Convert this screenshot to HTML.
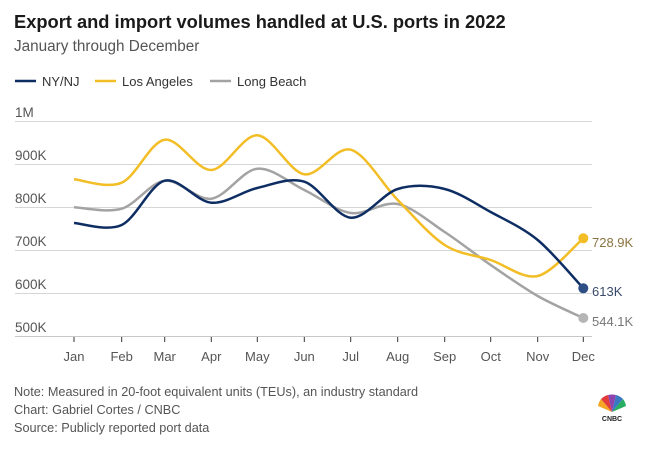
<!DOCTYPE html>
<html><head><meta charset="utf-8"><style>
body{margin:0;width:655px;height:449px;background:#fff;font-family:"Liberation Sans",sans-serif;overflow:hidden}
</style></head><body>
<svg width="655" height="449" xmlns="http://www.w3.org/2000/svg" style="position:absolute;left:0;top:0">
<text x="14" y="28" font-size="18.3" font-weight="bold" fill="#1a1a1a">Export and import volumes handled at U.S. ports in 2022</text>
<text x="14" y="51" font-size="15.3" fill="#555">January through December</text>
<g font-size="13" fill="#333">
<line x1="15" y1="81" x2="36" y2="81" stroke="#0e2e63" stroke-width="2.5"/><text x="42" y="86">NY/NJ</text>
<line x1="95" y1="81" x2="116" y2="81" stroke="#f2bd25" stroke-width="2.5"/><text x="122" y="86">Los Angeles</text>
<line x1="210" y1="81" x2="231" y2="81" stroke="#a3a3a3" stroke-width="2.5"/><text x="237" y="86">Long Beach</text>
</g>
<g stroke="#d6d6d6" stroke-width="1">
<line x1="15" y1="121.5" x2="592" y2="121.5"/><line x1="15" y1="164.5" x2="592" y2="164.5"/>
<line x1="15" y1="207.5" x2="592" y2="207.5"/><line x1="15" y1="250.5" x2="592" y2="250.5"/>
<line x1="15" y1="293.5" x2="592" y2="293.5"/><line x1="15" y1="336.5" x2="592" y2="336.5" stroke="#c8c8c8"/>
</g>
<g font-size="13.5" fill="#555">
<text x="15" y="117">1M</text><text x="15" y="160">900K</text><text x="15" y="203">800K</text>
<text x="15" y="246">700K</text><text x="15" y="289">600K</text><text x="15" y="332">500K</text>
</g>
<g id="ticks" stroke="#333" stroke-width="1"></g>
<g id="xl" font-size="13" fill="#555" text-anchor="middle"></g>
<path id="gy" fill="none" stroke="#a3a3a3" stroke-width="2.5"/>
<path id="yl" fill="none" stroke="#f2bd25" stroke-width="2.5"/>
<path id="nv" fill="none" stroke="#0e2e63" stroke-width="2.5"/>
<circle cx="583.3" cy="238.3" r="5" fill="#f2bd25"/>
<circle cx="583.3" cy="288.3" r="5" fill="#2e4f86"/>
<circle cx="583.3" cy="318" r="5" fill="#b5b5b5"/>
<text x="592" y="247" font-size="13" fill="#8a7440">728.9K</text>
<text x="592" y="296" font-size="13" fill="#3a4a6a">613K</text>
<text x="592" y="326" font-size="13" fill="#777">544.1K</text>
<g font-size="12.7" fill="#555">
<text x="14" y="396">Note: Measured in 20-foot equivalent units (TEUs), an industry standard</text>
<text x="14" y="414">Chart: Gabriel Cortes / CNBC</text>
<text x="14" y="432">Source: Publicly reported port data</text>
</g>
<g transform="translate(612,412)">
<path d="M0,0 L-14,-6 A15,15 0 0 1 -11,-13 Z" fill="#f5a623"/>
<path d="M0,0 L-11,-13 A15,15 0 0 1 -4,-17 Z" fill="#e23b3b"/>
<path d="M0,0 L-4,-17 A15,15 0 0 1 4,-17 Z" fill="#8e44ad"/>
<path d="M0,0 L4,-17 A15,15 0 0 1 11,-13 Z" fill="#3a78c3"/>
<path d="M0,0 L11,-13 A15,15 0 0 1 14,-6 Z" fill="#27ae60"/>
<text x="0" y="9" font-size="7" font-weight="bold" text-anchor="middle" fill="#222">CNBC</text>
</g>
</svg>
<script>
var xs=[74,121.7,164.7,211.3,257.3,304.3,350.7,397.7,444.7,490.7,537.7,583.3];
var m=["Jan","Feb","Mar","Apr","May","Jun","Jul","Aug","Sep","Oct","Nov","Dec"];
var ns="http://www.w3.org/2000/svg";
xs.forEach(function(x,i){var l=document.createElementNS(ns,"line");l.setAttribute("x1",x);l.setAttribute("x2",x);l.setAttribute("y1",337);l.setAttribute("y2",342);document.getElementById("ticks").appendChild(l);
var t=document.createElementNS(ns,"text");t.setAttribute("x",x);t.setAttribute("y",361);t.textContent=m[i];document.getElementById("xl").appendChild(t);});
function path(ys){var p="M"+xs[0]+","+ys[0];for(var i=0;i<ys.length-1;i++){var x0=xs[Math.max(i-1,0)],y0=ys[Math.max(i-1,0)],x1=xs[i],y1=ys[i],x2=xs[i+1],y2=ys[i+1],x3=xs[Math.min(i+2,11)],y3=ys[Math.min(i+2,11)];
var t=0.16;p+=" C"+(x1+(x2-x0)*t)+","+(y1+(y2-y0)*t)+" "+(x2-(x3-x1)*t)+","+(y2-(y3-y1)*t)+" "+x2+","+y2;}return p;}
document.getElementById("yl").setAttribute("d",path([179.3,182.7,139.7,170,135.3,174.3,149.7,200,245,260,276,238.3]));
document.getElementById("nv").setAttribute("d",path([223,225,180.7,202.7,188,181.7,217.7,189,189,212,240,288.3]));
document.getElementById("gy").setAttribute("d",path([207.3,208.7,180.7,198.7,168.7,190,213,204,232,265,296,318]));
</script>
</body></html>
